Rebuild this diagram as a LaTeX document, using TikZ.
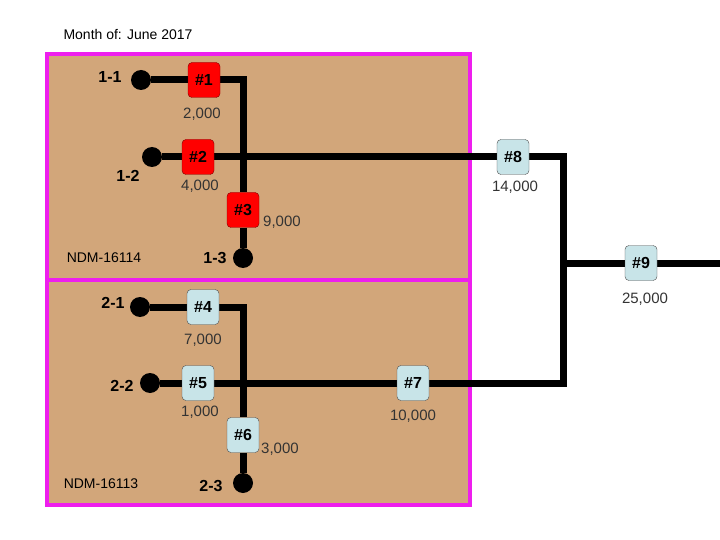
\documentclass[tikz,border=0pt]{standalone}
\usepackage{fontspec}
\setmainfont{Liberation Sans}
\usetikzlibrary{backgrounds}

\definecolor{tanfill}{RGB}{210,166,122}
\definecolor{zoneline}{RGB}{238,30,238}
\definecolor{redtap}{RGB}{255,0,0}
\definecolor{bluetap}{RGB}{200,228,232}

\tikzset{
  pipe/.style={line width=7pt},
  well/.style={circle, fill=black, inner sep=0pt, minimum size=20pt},
  tapbox/.style={rectangle, rounded corners=4pt, draw=black!70, minimum width=32pt, minimum height=35pt, inner sep=0pt, font=\fontsize{16}{18}\selectfont\bfseries},
  redbox/.style={tapbox, fill=redtap, draw=red!50!black},
  bluebox/.style={tapbox, fill=bluetap},
  wellname/.style={font=\fontsize{16}{18}\selectfont\bfseries},
  qty/.style={font=\fontsize{15}{17}\selectfont, text=black!80},
  tag/.style={font=\fontsize{14}{16}\selectfont},
  zone/.style={draw=zoneline, line width=4pt, fill=tanfill},
}

\begin{document}
\begin{tikzpicture}[x=1pt, y=-1pt]
\useasboundingbox (0,0) rectangle (720,540);

\node[tag, anchor=west] (month) at (60,34) {Month of: June 2017};

% wells
\node[well] (d11) at (141,80) {};
\node[well] (d12) at (152,157) {};
\node[well] (d13) at (243,258) {};
\node[well] (d21) at (140,307) {};
\node[well] (d22) at (150,383) {};
\node[well] (d23) at (243,483) {};

% taps
\node[redbox] (b1) at (204,80) {\#1};
\node[redbox] (b2) at (198,157) {\#2};
\node[redbox] (b3) at (243,210) {\#3};
\node[bluebox] (b4) at (203,307) {\#4};
\node[bluebox] (b5) at (198,383) {\#5};
\node[bluebox] (b6) at (243,435) {\#6};
\node[bluebox] (b7) at (413,383) {\#7};
\node[bluebox] (b8) at (513,157) {\#8};
\node[bluebox] (b9) at (641,263) {\#9};

\coordinate (bend1) at (563,157);
\coordinate (bend2) at (563,383);
\coordinate (tee) at (563,263);
\coordinate (out) at (720,263);

\begin{scope}[on background layer]
\fill[white] (0,0) rectangle (720,540);
\draw[zone] (46.5,54.5) rectangle (470,280);
\draw[zone] (46.5,280) rectangle (470,505);

\draw[pipe] (d11) -- (b1) -| (b3) -- (d13);
\draw[pipe] (d12) -- (b2) -- (b8);
\draw[pipe] (d21) -- (b4) -| (b6) -- (d23);
\draw[pipe] (d22) -- (b5) -- (b7) -- (bend2) -- (bend1) -- (b8);
\draw[pipe] (tee) -- (b9) -- (out);
\end{scope}

% well names
\node[wellname] (n11) at (110,77) {1-1};
\node[wellname] (n12) at (128,176) {1-2};
\node[wellname] (n13) at (215,258) {1-3};
\node[wellname] (n21) at (113,303) {2-1};
\node[wellname] (n22) at (122,386) {2-2};
\node[wellname] (n23) at (211,486) {2-3};

% volumes
\node[qty] (q1) at (202,114) {2,000};
\node[qty] (q2) at (200,186) {4,000};
\node[qty] (q3) at (282,222) {9,000};
\node[qty] (q4) at (203,340) {7,000};
\node[qty] (q5) at (200,412) {1,000};
\node[qty] (q6) at (280,449) {3,000};
\node[qty] (q7) at (413,416) {10,000};
\node[qty] (q8) at (515,187) {14,000};
\node[qty] (q9) at (645,299) {25,000};

\node[tag] (ndm1) at (104,258) {NDM-16114};
\node[tag] (ndm2) at (101,484) {NDM-16113};
\end{tikzpicture}
\end{document}
